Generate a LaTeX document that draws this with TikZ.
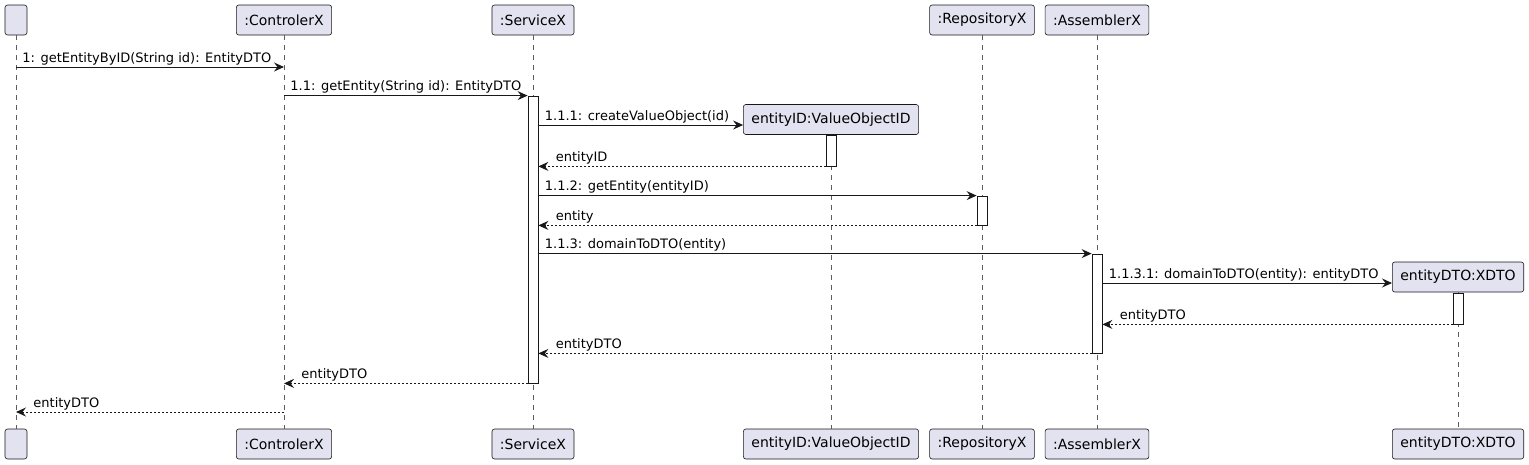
\documentclass[tikz,border=0pt]{standalone}
\usepackage{fontspec}
\setmainfont{DejaVu Sans}
\usepackage{tikz}
\usetikzlibrary{arrows.meta, positioning, calc}
\definecolor{partfill}{HTML}{E2E2F0}
\definecolor{linedark}{HTML}{181818}
\newcommand{\msgfont}{\fontsize{13}{15}\selectfont}
\newcommand{\partfont}{\fontsize{14}{16}\selectfont}

\begin{document}
\begin{tikzpicture}[x=1pt, y=-1pt,
        part/.style={rectangle, rounded corners=2.5pt, draw=linedark, line width=0.6pt, fill=partfill, minimum height=30pt, minimum width=22pt, inner xsep=8pt, font=\partfont},
        act/.style={rectangle, draw=linedark, line width=0.8pt, fill=white, minimum width=10pt, inner sep=0pt},
        life/.style={draw=linedark!70, line width=0.6pt, dash pattern=on 5pt off 5pt},
        msg/.style={-{Stealth[length=10pt, width=9pt, inset=3.5pt]}, line width=0.9pt, draw=linedark},
        ret/.style={msg, dash pattern=on 2pt off 2pt},
        fwd/.style={at start, anchor=base west, inner sep=0pt, xshift=6pt, yshift=5pt, font=\msgfont},
        bwd/.style={at end, anchor=base west, inner sep=0pt, xshift=17pt, yshift=5pt, font=\msgfont}
    ]
        \useasboundingbox (0,0) rectangle (1529,464);

        % Participants (top)
        \node[part] (u) at (16,20) {};
        \node[part] (ctrl) at (284,20) {:ControlerX};
        \node[part] (serv) at (533,20) {:ServiceX};
        \node[part] (vo) at (831,119.5) {entityID:ValueObjectID};
        \node[part] (repo) at (982,20) {:RepositoryX};
        \node[part] (asm) at (1097,20) {:AssemblerX};
        \node[part] (dto) at (1458,277) {entityDTO:XDTO};

        % Participants (bottom)
        \node[part] (ub) at (16,444) {};
        \node[part] (ctrlb) at (284,444) {:ControlerX};
        \node[part] (servb) at (533,444) {:ServiceX};
        \node[part] (vob) at (831,444) {entityID:ValueObjectID};
        \node[part] (repob) at (982,444) {:RepositoryX};
        \node[part] (asmb) at (1097,444) {:AssemblerX};
        \node[part] (dtob) at (1458,444) {entityDTO:XDTO};

        % Lifelines
        \draw[life] (u) -- (ub);
        \draw[life] (ctrl) -- (ctrlb);
        \draw[life] (serv) -- (servb);
        \draw[life] (vo) -- (vob);
        \draw[life] (repo) -- (repob);
        \draw[life] (asm) -- (asmb);
        \draw[life] (dto) -- (dtob);

        % Activations
        \node[act, minimum height=287pt] (actS) at (533,239.5) {};
        \node[act, minimum height=31pt] (actV) at (831,150.5) {};
        \node[act, minimum height=29pt] (actR) at (982,210.5) {};
        \node[act, minimum height=99pt] (actA) at (1097,303.5) {};
        \node[act, minimum height=31pt] (actD) at (1458,308.5) {};

        % Messages
        \draw[msg] (u |- 0,67) -- (ctrl |- 0,67) node[fwd] {1: getEntityByID(String id): EntityDTO};
        \draw[msg] (ctrl |- actS.north) -- (actS.north west) node[fwd] {1.1: getEntity(String id): EntityDTO};
        \draw[msg] (actS.east |- 0,125) -- (vo.west |- 0,125) node[fwd] {1.1.1: createValueObject(id)};
        \draw[ret] (actV.south west) -- (actS.east |- actV.south) node[bwd] {entityID};
        \draw[msg] (actS.east |- actR.north) -- (actR.north west) node[fwd] {1.1.2: getEntity(entityID)};
        \draw[ret] (actR.south west) -- (actS.east |- actR.south) node[bwd] {entity};
        \draw[msg] (actS.east |- actA.north) -- (actA.north west) node[fwd] {1.1.3: domainToDTO(entity)};
        \draw[msg] (actA.east |- 0,283) -- (dto.west |- 0,283) node[fwd] {1.1.3.1: domainToDTO(entity): entityDTO};
        \draw[ret] (actD.south west) -- (actA.east |- actD.south) node[bwd] {entityDTO};
        \draw[ret] (actA.south west) -- (actS.east |- actA.south) node[bwd] {entityDTO};
        \draw[ret] (actS.south west) -- (ctrl |- actS.south) node[bwd] {entityDTO};
        \draw[ret] (ctrl |- 0,412) -- (u |- 0,412) node[bwd] {entityDTO};

    \end{tikzpicture}
\end{document}
